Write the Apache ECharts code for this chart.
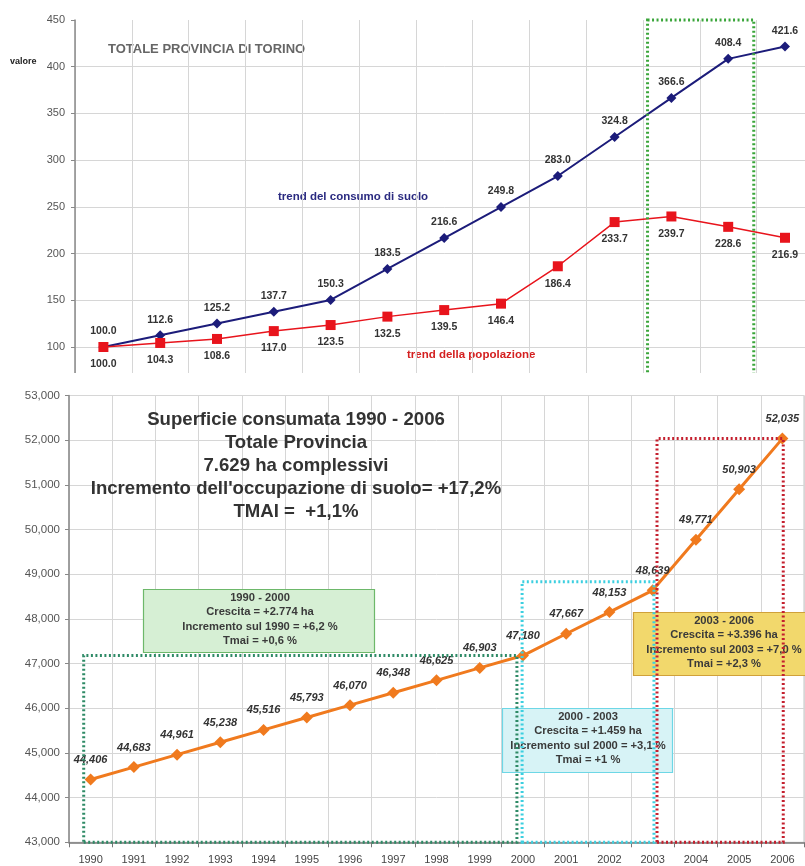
<!DOCTYPE html>
<html><head><meta charset="utf-8">
<script src="https://cdn.jsdelivr.net/npm/echarts@6/dist/echarts.min.js"></script>
<style>
html,body{margin:0;padding:0;background:#fff;width:805px;height:866px;overflow:hidden}
#topWrap{position:absolute;left:0;top:0;width:805px;height:373px;overflow:hidden}
#topChart{position:absolute;left:0;top:0;width:830px;height:420px}
#bottomChart{position:absolute;left:0;top:380px;width:805px;height:486px}
</style></head><body>
<div id="topWrap"><div id="topChart"></div></div>
<div id="bottomChart"></div>
<script>
// ---- data: top chart (index 1990 = 100) ----
const indexPoints = ['1','2','3','4','5','6','7','8','9','10','11','12','13'];
const soilTrend = [100.0,112.6,125.2,137.7,150.3,183.5,216.6,249.8,283.0,324.8,366.6,408.4,421.6];
const popTrend  = [100.0,104.3,108.6,117.0,123.5,132.5,139.5,146.4,186.4,233.7,239.7,228.6,216.9];
const topAxisMin = 50, topAxisMax = 450, topAxisStep = 50;

// ---- data: bottom chart (ha) ----
const years = ['1990','1991','1992','1993','1994','1995','1996','1997','1998','1999','2000','2001','2002','2003','2004','2005','2006'];
const surfaceHa = [44406,44683,44961,45238,45516,45793,46070,46348,46625,46903,47180,47667,48153,48639,49771,50903,52035];
const bottomAxisMin = 43000, bottomAxisMax = 53000, bottomAxisStep = 1000;

// ---- texts ----
const topTitle = 'TOTALE PROVINCIA DI TORINO';
const topYName = 'valore';
const soilName = 'trend del consumo di suolo';
const popName = 'trend della popolazione';
const bottomTitle = ['Superficie consumata 1990 - 2006','Totale Provincia','7.629 ha complessivi',"Incremento dell'occupazione di suolo= +17,2%",'TMAI =  +1,1%'];
const box1 = ['1990 - 2000','Crescita = +2.774 ha','Incremento sul 1990 = +6,2 %','Tmai = +0,6 %'];
const box2 = ['2000 - 2003','Crescita = +1.459 ha','Incremento sul 2000 = +3,1 %','Tmai = +1 %'];
const box3 = ['2003 - 2006','Crescita = +3.396 ha','Incremento sul 2003 = +7,0 %','Tmai = +2,3 %'];

const FONT = '"Liberation Sans", Arial, sans-serif';
const fmtThousands = v => String(v).replace(/\B(?=(\d{3})+(?!\d))/g, ',');

// ================= TOP CHART =================
const topChart = echarts.init(document.getElementById('topChart'));
topChart.setOption({
  animation: false,
  textStyle: { fontFamily: FONT },
  grid: { left: 75, top: 20, right: 16.6, bottom: 26.3 },
  xAxis: [
    { type: 'category', data: indexPoints, boundaryGap: true,
      axisLine: { show: true, onZero: false, lineStyle: { color: '#888' } },
      axisTick: { show: false }, axisLabel: { show: false },
      splitLine: { show: true, interval: 0, lineStyle: { color: '#d6d6d6' } } },
    { type: 'value', min: -0.5, max: indexPoints.length - 0.5, show: false }
  ],
  yAxis: {
    type: 'value', min: topAxisMin, max: topAxisMax, interval: topAxisStep,
    axisLine: { show: true, onZero: false, lineStyle: { color: '#8a8a8a', width: 1.5 } },
    axisTick: { show: true, length: 4, lineStyle: { color: '#888' } },
    axisLabel: { color: '#555', fontSize: 11, margin: 10, fontFamily: FONT },
    splitLine: { show: true, showMaxLine: false, lineStyle: { color: '#d6d6d6' } }
  },
  graphic: [
    { type: 'text', x: 108, y: 49, style: { text: topTitle, font: 'bold 13px ' + FONT, fill: '#666', textAlign: 'left', verticalAlign: 'middle', textVerticalAlign: 'middle' } },
    { type: 'text', x: 10, y: 62, style: { text: topYName, font: 'bold 9px ' + FONT, fill: '#222', textAlign: 'left', verticalAlign: 'middle', textVerticalAlign: 'middle' } },
    { type: 'text', x: 278, y: 197, style: { text: soilName, font: 'bold 11.5px ' + FONT, fill: '#2a2a80', textAlign: 'left', verticalAlign: 'middle', textVerticalAlign: 'middle' } },
    { type: 'text', x: 407, y: 355, style: { text: popName, font: 'bold 11.5px ' + FONT, fill: '#d42020', textAlign: 'left', verticalAlign: 'middle', textVerticalAlign: 'middle' } }
  ],
  series: [
    { type: 'line', data: soilTrend, symbol: 'diamond', symbolSize: 10, z: 3,
      lineStyle: { color: '#1c1c7a', width: 2 }, itemStyle: { color: '#1c1c7a' },
      label: { show: true, position: 'top', distance: 5, color: '#333', fontWeight: 'bold', fontSize: 10.5, fontFamily: FONT,
               formatter: p => p.value.toFixed(1) } },
    { type: 'line', data: popTrend, symbol: 'rect', symbolSize: 10, z: 4,
      lineStyle: { color: '#e8141c', width: 1.5 }, itemStyle: { color: '#e8141c' },
      label: { show: true, position: 'bottom', distance: 7, color: '#333', fontWeight: 'bold', fontSize: 10.5, fontFamily: FONT,
               formatter: p => p.value.toFixed(1) } },
    { type: 'line', xAxisIndex: 1, data: [], clip: false, silent: true,
      markArea: { silent: true, z: 10,
        itemStyle: { color: 'rgba(0,0,0,0)', borderColor: '#3aa53a', borderWidth: 3, borderType: [2, 2.5] },
        data: [[{ coord: [9.58, 453] }, { coord: [11.45, topAxisMin] }]] } }
  ]
});

// ================= BOTTOM CHART =================
const bottomChart = echarts.init(document.getElementById('bottomChart'));
function boxText(lines, cx, cy) {
  return { type: 'text', x: cx, y: cy, z: 6,
    style: { text: lines.join('\n'), font: 'bold 11.2px ' + FONT, fill: '#3a3a3a', lineHeight: 14.6,
             textAlign: 'center', verticalAlign: 'middle', textVerticalAlign: 'middle' } };
}
bottomChart.setOption({
  animation: false,
  textStyle: { fontFamily: FONT },
  grid: { left: 69, top: 15.5, right: 1, bottom: 23.7, show: true, borderColor: '#c4c4c4', borderWidth: 1, backgroundColor: 'transparent' },
  xAxis: [
    { type: 'category', data: years, boundaryGap: true,
      axisLine: { show: true, onZero: false, lineStyle: { color: '#777', width: 1.5 } },
      axisTick: { show: true, interval: 0, length: 5, lineStyle: { color: '#777' } },
      axisLabel: { interval: 0, color: '#444', fontSize: 11, margin: 12, fontFamily: FONT },
      splitLine: { show: true, interval: 0, lineStyle: { color: '#d6d6d6' } } },
    { type: 'value', min: -0.5, max: years.length - 0.5, show: false }
  ],
  yAxis: {
    type: 'value', min: bottomAxisMin, max: bottomAxisMax, interval: bottomAxisStep,
    axisLine: { show: true, onZero: false, lineStyle: { color: '#8a8a8a', width: 1.5 } },
    axisTick: { show: true, length: 4, lineStyle: { color: '#888' } },
    axisLabel: { color: '#555', fontSize: 11.5, margin: 9, fontFamily: FONT, formatter: v => fmtThousands(v) },
    splitLine: { show: true, lineStyle: { color: '#d6d6d6' } }
  },
  graphic: [
    { type: 'text', x: 296, y: 28.5, z: 6,
      style: { text: bottomTitle.join('\n'), font: 'bold 18.6px ' + FONT, fill: '#333', lineHeight: 23,
               textAlign: 'center', verticalAlign: 'top', textVerticalAlign: 'top' } },
    { type: 'rect', z: 5, shape: { x: 143.5, y: 209.5, width: 231, height: 63 },
      style: { fill: '#d6efd4', stroke: '#6db86a', lineWidth: 1.2 } },
    boxText(box1, 260, 239.5),
    { type: 'rect', z: 5, shape: { x: 502.5, y: 328.5, width: 170, height: 64 },
      style: { fill: '#d7f3f6', stroke: '#6dd7e6', lineWidth: 1.2 } },
    boxText(box2, 588, 358.5),
    { type: 'rect', z: 5, shape: { x: 633.5, y: 232.5, width: 180, height: 63 },
      style: { fill: '#f2d86c', stroke: '#d0a13a', lineWidth: 1.2 } },
    boxText(box3, 724, 262.5)
  ],
  series: [
    { type: 'line', data: surfaceHa, symbol: 'diamond', symbolSize: 12, z: 3,
      lineStyle: { color: '#f07a1e', width: 3 }, itemStyle: { color: '#f07a1e' },
      label: { show: true, position: 'top', distance: 8, color: '#333', fontWeight: 'bold', fontStyle: 'italic',
               fontSize: 11, fontFamily: FONT, formatter: p => fmtThousands(p.value) } },
    { type: 'line', xAxisIndex: 1, data: [], clip: false, silent: true, z: 10,
      markArea: { silent: true, z: 10,
        itemStyle: { color: 'rgba(0,0,0,0)', borderWidth: 3, borderType: [2, 2.5] },
        data: [
          [{ coord: [-0.16, bottomAxisMin], itemStyle: { borderColor: '#2e8a66' } }, { coord: [9.86, 47180] }],
          [{ coord: [9.98, bottomAxisMin], itemStyle: { borderColor: '#3ccfe0' } }, { coord: [13.03, 48830] }],
          [{ coord: [13.1, bottomAxisMin], itemStyle: { borderColor: '#c4202e' } }, { coord: [16.02, 52035] }]
        ] } }
  ]
});
</script>
</body></html>
